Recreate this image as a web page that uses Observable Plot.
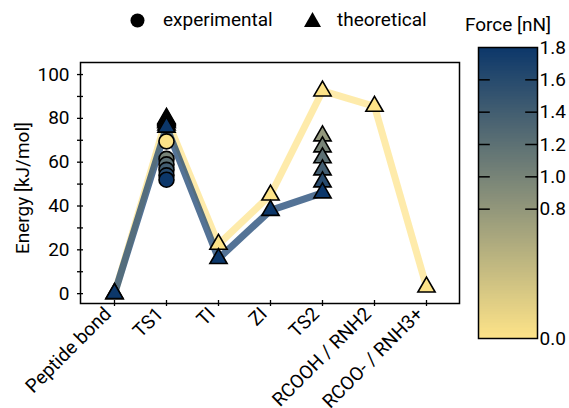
<!DOCTYPE html>
<html><head><meta charset="utf-8">
<script src="https://cdn.jsdelivr.net/npm/d3@7"></script>
<script src="https://cdn.jsdelivr.net/npm/@observablehq/plot@0.6"></script>
<style>
body{margin:0;background:#fff;font-family:Roboto,sans-serif;}
#wrap{position:relative;width:569px;height:408px;overflow:hidden;background:#fff;}
#wrap svg.plotsvg{position:absolute;top:0;}
.leg{position:absolute;font-family:Roboto,sans-serif;font-size:19px;color:#000;line-height:1;}
</style></head><body><div id="wrap"></div>
<script>
const categories = ["Peptide bond","TS1","TI","ZI","TS2","RCOOH / RNH2","RCOO- / RNH3+"];
const forceTicks = [0.0, 0.8, 1.0, 1.2, 1.4, 1.6, 1.8];
const yTicks = [0,10,20,30,40,50,60,70,80,90,100];
// theoretical, force 0 nN (all states)
const theoForce0 = [0, 80, 22.5, 45, 92.5, 85.5, 3];
// theoretical, force 1.8 nN (first five states)
const theoForce18 = [0, 76, 16, 38, 46];
// theoretical, intermediate forces (TS1 and TS2 only)
const midForces = [0.8, 1.0, 1.2, 1.4, 1.6];
const midTS1 = [79.5, 79, 78.5, 78, 77];
const midTS2 = [72, 67, 62, 56.5, 51];
// experimental (TS1)
const expForces = [0, 1.0, 1.2, 1.4, 1.6, 1.8];
const expTS1 = [69.5, 61.5, 59, 56.5, 54, 52];

const colorScale = {type:"linear", domain:[0,1.8], range:["#fde388","#0c376a"], interpolate:"rgb"};

const theoRows = [];
theoForce0.forEach((e,i)=>theoRows.push({cat:categories[i], energy:e, force:0}));
midForces.forEach((f,i)=>{
  theoRows.push({cat:"TS1", energy:midTS1[i], force:f});
  theoRows.push({cat:"TS2", energy:midTS2[i], force:f});
});
theoForce18.forEach((e,i)=>theoRows.push({cat:categories[i], energy:e, force:1.8}));
const lineRows = theoRows.filter(d=>d.force===0 || d.force===1.8);
const expRows = expForces.map((f,i)=>({cat:"TS1", energy:expTS1[i], force:f}));

const wrap = document.getElementById("wrap");
const FS = 19;

const main = Plot.plot({
  width:469, height:408, marginLeft:80, marginRight:10, marginTop:62, marginBottom:105,
  style:{fontFamily:"Roboto", fontSize:FS+"px", color:"black", background:"transparent", overflow:"visible"},
  x:{type:"point", domain:categories, padding:0.6},
  y:{domain:[-4.5,105.5]},
  color:colorScale,
  marks:[
    Plot.line(lineRows, {x:"cat", y:"energy", z:"force", stroke:"force", strokeOpacity:0.7, strokeWidth:7, strokeLinejoin:"round", strokeLinecap:"butt"}),
    Plot.dot(theoRows, {x:"cat", y:"energy", fill:"force", symbol:"triangle", r:6.4, stroke:"black", strokeWidth:1.6}),
    Plot.dot(expRows, {x:"cat", y:"energy", fill:"force", r:7.5, stroke:"black", strokeWidth:1.6}),
    Plot.frame({stroke:"black", strokeWidth:1.5}),
    Plot.axisY({ticks:yTicks, tickSize:6, dx:3, tickPadding:8, tickFormat:d=>d%20===0?String(d):"", fontSize:FS, label:null, strokeWidth:1.3}),
    Plot.axisX({tickSize:6, dy:-3, tickFormat:()=>"", label:null, strokeWidth:1.3}),
    Plot.axisX({tickSize:0, tickPadding:7.3, dx:-6.6, tickRotate:-45, fontSize:FS, label:null}),
    Plot.text(["Energy [kJ/mol]"], {frameAnchor:"left", dx:-58, dy:5, rotate:-90, textAnchor:"middle", fontSize:FS})
  ]
});
main.classList.add("plotsvg");
main.style.left = "0px";
wrap.appendChild(main);

const cbSteps = d3.range(0, 180).map(i => i/100);
const cbMid = forceTicks.filter(f => f > 0 && f < 1.8);
const cb = Plot.plot({
  width:100, height:408, marginLeft:9, marginRight:32, marginTop:47, marginBottom:70,
  style:{fontFamily:"Roboto", fontSize:FS+"px", color:"black", background:"transparent", overflow:"visible"},
  x:{domain:[0,1], axis:null},
  y:{domain:[0,1.8]},
  color:colorScale,
  marks:[
    Plot.rect(cbSteps, {x1:0, x2:1, y1:d=>d, y2:d=>Math.min(1.8, d+0.025), fill:d=>d+0.005, shapeRendering:"crispEdges"}),
    Plot.ruleY(cbMid, {y:d=>d, x1:0, x2:0.2, stroke:"black", strokeWidth:1.5}),
    Plot.ruleY(cbMid, {y:d=>d, x1:0.8, x2:1, stroke:"black", strokeWidth:1.5}),
    Plot.frame({stroke:"black", strokeWidth:1.5}),
    Plot.axisY({anchor:"right", ticks:forceTicks, tickSize:0, tickPadding:2, tickFormat:d3.format(".1f"), fontSize:FS, label:null}),
    Plot.text(["Force [nN]"], {frameAnchor:"top", dy:-23, lineAnchor:"middle", textAnchor:"middle", fontSize:FS})
  ]
});
cb.classList.add("plotsvg");
cb.style.left = "469px";
wrap.appendChild(cb);

// legend (HTML, above the plot)
const leg = document.createElement("div");
leg.innerHTML =
  '<svg style="position:absolute;left:130px;top:13px" width="15" height="15"><circle cx="7.5" cy="7.5" r="7" fill="#000"/></svg>' +
  '<span class="leg" style="left:163px;top:10px">experimental</span>' +
  '<svg style="position:absolute;left:303px;top:11px" width="19" height="17"><path d="M9.5,1 L18,16 L1,16 Z" fill="#000"/></svg>' +
  '<span class="leg" style="left:337px;top:10px">theoretical</span>';
wrap.appendChild(leg);
</script></body></html>
